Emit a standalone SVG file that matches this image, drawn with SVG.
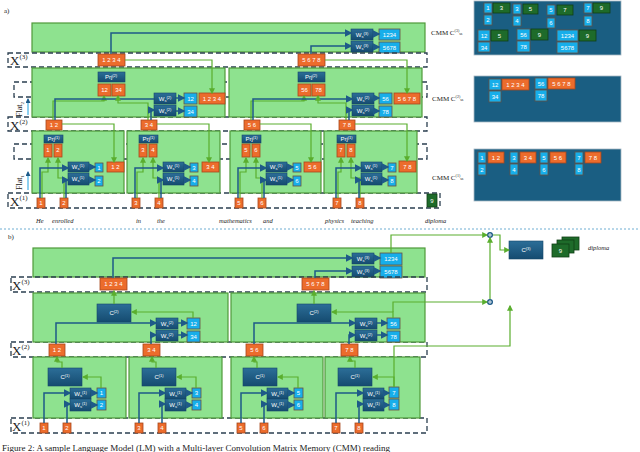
<svg xmlns="http://www.w3.org/2000/svg" width="640" height="452" viewBox="0 0 640 452">
<defs>
<marker id="ag" markerWidth="5" markerHeight="5" refX="4" refY="2.5" orient="auto"><path d="M0,0L5,2.5L0,5z" fill="#5aae2e"/></marker>
<marker id="ab" markerWidth="5" markerHeight="5" refX="4" refY="2.5" orient="auto"><path d="M0,0L5,2.5L0,5z" fill="#1e5a88"/></marker>
<linearGradient id="wg" x1="0" y1="0" x2="0" y2="1"><stop offset="0" stop-color="#2c6e98"/><stop offset="1" stop-color="#154b70"/></linearGradient>
</defs>
<style>
.g{fill:#8ee28f;stroke:#4f9a3a;stroke-width:1.2}
.o{fill:#ec6c2c;stroke:#a9481c;stroke-width:0.8}
.b{fill:#17aeea;stroke:#6a5040;stroke-width:0.8}
.dg{fill:#1e6b2a;stroke:#0f3f16;stroke-width:0.8}
.w{fill:url(#wg);stroke:#16466a;stroke-width:0.6}
.d{fill:none;stroke:#2b3f50;stroke-width:1.3;stroke-dasharray:5 3}
.gl{fill:none;stroke:#5aae2e;stroke-width:1.2;marker-end:url(#ag)}
.gn{fill:none;stroke:#5aae2e;stroke-width:1.2}
.bl{fill:none;stroke:#1e5a88;stroke-width:1.5;marker-end:url(#ab)}
.bn{fill:none;stroke:#1e5a88;stroke-width:1.5}
.cm{fill:#1a5e82;stroke:#a8b8c4;stroke-width:0.8}
text{font-family:"Liberation Sans",Arial,sans-serif}
.t{fill:#fff;font-size:6px;text-anchor:middle}
.s{font-family:"Liberation Serif","Times New Roman",serif;fill:#222}
.wd{font-family:"Liberation Serif",serif;font-style:italic;font-size:6.5px;fill:#222}
</style>
<rect width="640" height="452" fill="#fff"/>
<text x="4" y="13" class="s" font-size="7">a)</text>
<text x="8" y="239" class="s" font-size="7">b)</text>
<line x1="0" y1="229" x2="640" y2="229" stroke="#4a9ac8" stroke-width="0.8" stroke-dasharray="2 2"/>

<!-- ===== PANEL A ===== -->
<g id="a-top">
<rect class="g" x="32" y="23" width="393" height="29"/>
<rect class="w" x="351" y="29" width="22" height="11"/><text class="t" x="362" y="37">W<tspan font-size="4" dy="1">s</tspan><tspan font-size="4" dy="-3">(3)</tspan></text>
<rect class="w" x="351" y="41" width="22" height="11"/><text class="t" x="362" y="49">W<tspan font-size="4" dy="1">s</tspan><tspan font-size="4" dy="-3">(3)</tspan></text>
<rect class="b" x="379" y="29" width="21" height="11"/><text class="t" x="389.5" y="37">1234</text>
<rect class="b" x="379" y="42" width="21" height="11"/><text class="t" x="389.5" y="50">5678</text>
</g>
<g id="a-bands">
<rect class="d" x="8" y="53" width="419" height="14"/>
<rect class="d" x="14" y="82" width="413" height="15"/>
<rect class="d" x="8" y="117" width="419" height="14"/>
<rect class="d" x="14" y="144" width="413" height="15"/>
<rect class="d" x="8" y="193" width="432" height="15"/>
<text x="10" y="65" class="s" font-size="13">X<tspan font-size="7" dy="-6">(3)</tspan></text>
<text x="10" y="130" class="s" font-size="13">X<tspan font-size="7" dy="-6">(2)</tspan></text>
<text x="10" y="206" class="s" font-size="13">X<tspan font-size="7" dy="-6">(1)</tspan></text>
<text class="s" font-size="8" transform="translate(22,117) rotate(-90)">Flat<tspan font-size="5" dy="2">2</tspan></text>
<text class="s" font-size="8" transform="translate(22,190) rotate(-90)">Flat<tspan font-size="5" dy="2">1</tspan></text>
<line x1="28" y1="115" x2="28" y2="99" stroke="#1aa0e0" stroke-width="1" marker-end="url(#ab)"/>
<line x1="28" y1="190" x2="28" y2="172" stroke="#1aa0e0" stroke-width="1" marker-end="url(#ab)"/>
</g>

<g id="a-l2-left">
<rect class="g" x="32" y="68" width="193" height="49"/>
<rect class="w" x="98" y="72" width="27" height="10"/><text class="t" x="111" y="79">Prj<tspan font-size="4" dy="-2">(2)</tspan></text>
<rect class="o" x="98" y="84" width="13" height="12"/><text class="t" x="104.5" y="92">12</text>
<rect class="o" x="112" y="84" width="13" height="12"/><text class="t" x="118.5" y="92">34</text>
<rect class="w" x="154" y="93" width="22" height="11"/><text class="t" x="165" y="101">W<tspan font-size="4" dy="1">s</tspan><tspan font-size="4" dy="-3">(2)</tspan></text>
<rect class="w" x="154" y="105" width="22" height="11"/><text class="t" x="165" y="113">W<tspan font-size="4" dy="1">s</tspan><tspan font-size="4" dy="-3">(2)</tspan></text>
<rect class="b" x="184" y="93" width="13" height="11"/><text class="t" x="190.5" y="101">12</text>
<rect class="b" x="184" y="106" width="13" height="11"/><text class="t" x="190.5" y="114">34</text>
<rect class="o" x="199" y="93" width="26" height="11"/><text class="t" x="212" y="101">1 2 3 4</text>
<rect class="o" x="98" y="54" width="27" height="12"/><text class="t" x="111.5" y="62">1 2 3 4</text>
</g>
<g id="a-l2-right">
<rect class="g" x="229" y="68" width="193" height="49"/>
<rect class="w" x="298" y="72" width="27" height="10"/><text class="t" x="311" y="79">Prj<tspan font-size="4" dy="-2">(2)</tspan></text>
<rect class="o" x="298" y="84" width="13" height="12"/><text class="t" x="304.5" y="92">56</text>
<rect class="o" x="312" y="84" width="13" height="12"/><text class="t" x="318.5" y="92">78</text>
<rect class="w" x="352" y="93" width="22" height="11"/><text class="t" x="363" y="101">W<tspan font-size="4" dy="1">s</tspan><tspan font-size="4" dy="-3">(2)</tspan></text>
<rect class="w" x="352" y="105" width="22" height="11"/><text class="t" x="363" y="113">W<tspan font-size="4" dy="1">s</tspan><tspan font-size="4" dy="-3">(2)</tspan></text>
<rect class="b" x="379" y="93" width="13" height="11"/><text class="t" x="385.5" y="101">56</text>
<rect class="b" x="379" y="106" width="13" height="11"/><text class="t" x="385.5" y="114">78</text>
<rect class="o" x="394" y="93" width="26" height="11"/><text class="t" x="407" y="101">5 6 7 8</text>
<rect class="o" x="298" y="54" width="27" height="12"/><text class="t" x="311.5" y="62">5 6 7 8</text>
</g>

<g id="a-l1-1">
<rect class="g" x="32" y="131" width="92" height="62"/>
<rect class="w" x="44" y="135" width="19" height="8"/><text class="t" x="53.5" y="141">Prj<tspan font-size="4" dy="-2">(1)</tspan></text>
<rect class="o" x="44" y="144" width="8" height="13"/><text class="t" x="48" y="152">1</text>
<rect class="o" x="54" y="144" width="8" height="13"/><text class="t" x="58" y="152">2</text>
<rect class="w" x="68" y="162" width="21" height="10"/><text class="t" x="78" y="169">W<tspan font-size="4" dy="1">s</tspan><tspan font-size="4" dy="-3">(1)</tspan></text>
<rect class="w" x="68" y="173" width="21" height="12"/><text class="t" x="78" y="181">W<tspan font-size="4" dy="1">s</tspan><tspan font-size="4" dy="-3">(1)</tspan></text>
<rect class="b" x="95" y="163" width="8" height="9"/><text class="t" x="99" y="170">1</text>
<rect class="b" x="95" y="176" width="8" height="10"/><text class="t" x="99" y="183">2</text>
<rect class="o" x="107" y="162" width="17" height="10"/><text class="t" x="115.5" y="169">1 2</text>
<rect class="o" x="46" y="120" width="16" height="10"/><text class="t" x="54" y="127">1 2</text>
<rect class="o" x="37" y="198" width="8" height="10"/><text class="t" x="41" y="205">1</text>
<rect class="o" x="60" y="198" width="8" height="10"/><text class="t" x="64" y="205">2</text>
</g>
<g id="a-l1-2">
<rect class="g" x="127" y="131" width="93" height="62"/>
<rect class="w" x="139" y="135" width="19" height="8"/><text class="t" x="148.5" y="141">Prj<tspan font-size="4" dy="-2">(1)</tspan></text>
<rect class="o" x="139" y="144" width="8" height="13"/><text class="t" x="143" y="152">3</text>
<rect class="o" x="149" y="144" width="8" height="13"/><text class="t" x="153" y="152">4</text>
<rect class="w" x="163" y="162" width="21" height="10"/><text class="t" x="173" y="169">W<tspan font-size="4" dy="1">s</tspan><tspan font-size="4" dy="-3">(1)</tspan></text>
<rect class="w" x="163" y="173" width="21" height="12"/><text class="t" x="173" y="181">W<tspan font-size="4" dy="1">s</tspan><tspan font-size="4" dy="-3">(1)</tspan></text>
<rect class="b" x="190" y="163" width="8" height="9"/><text class="t" x="194" y="170">3</text>
<rect class="b" x="190" y="176" width="8" height="10"/><text class="t" x="194" y="183">4</text>
<rect class="o" x="202" y="162" width="17" height="10"/><text class="t" x="210.5" y="169">3 4</text>
<rect class="o" x="141" y="120" width="16" height="10"/><text class="t" x="149" y="127">3 4</text>
<rect class="o" x="132" y="198" width="8" height="10"/><text class="t" x="136" y="205">3</text>
<rect class="o" x="155" y="198" width="8" height="10"/><text class="t" x="159" y="205">4</text>
</g>
<g id="a-l1-3">
<rect class="g" x="230" y="131" width="91" height="62"/>
<rect class="w" x="242" y="135" width="19" height="8"/><text class="t" x="251.5" y="141">Prj<tspan font-size="4" dy="-2">(1)</tspan></text>
<rect class="o" x="242" y="144" width="8" height="13"/><text class="t" x="246" y="152">5</text>
<rect class="o" x="252" y="144" width="8" height="13"/><text class="t" x="256" y="152">6</text>
<rect class="w" x="266" y="162" width="21" height="10"/><text class="t" x="276" y="169">W<tspan font-size="4" dy="1">s</tspan><tspan font-size="4" dy="-3">(1)</tspan></text>
<rect class="w" x="266" y="173" width="21" height="12"/><text class="t" x="276" y="181">W<tspan font-size="4" dy="1">s</tspan><tspan font-size="4" dy="-3">(1)</tspan></text>
<rect class="b" x="293" y="163" width="8" height="9"/><text class="t" x="297" y="170">5</text>
<rect class="b" x="293" y="176" width="8" height="10"/><text class="t" x="297" y="183">6</text>
<rect class="o" x="304" y="162" width="17" height="10"/><text class="t" x="312.5" y="169">5 6</text>
<rect class="o" x="244" y="120" width="16" height="10"/><text class="t" x="252" y="127">5 6</text>
<rect class="o" x="235" y="198" width="8" height="10"/><text class="t" x="239" y="205">5</text>
<rect class="o" x="258" y="198" width="8" height="10"/><text class="t" x="262" y="205">6</text>
</g>
<g id="a-l1-4">
<rect class="g" x="324" y="131" width="93" height="62"/>
<rect class="w" x="337" y="135" width="19" height="8"/><text class="t" x="346.5" y="141">Prj<tspan font-size="4" dy="-2">(1)</tspan></text>
<rect class="o" x="337" y="144" width="8" height="13"/><text class="t" x="341" y="152">7</text>
<rect class="o" x="347" y="144" width="8" height="13"/><text class="t" x="351" y="152">8</text>
<rect class="w" x="361" y="162" width="21" height="10"/><text class="t" x="371" y="169">W<tspan font-size="4" dy="1">s</tspan><tspan font-size="4" dy="-3">(1)</tspan></text>
<rect class="w" x="361" y="173" width="21" height="12"/><text class="t" x="371" y="181">W<tspan font-size="4" dy="1">s</tspan><tspan font-size="4" dy="-3">(1)</tspan></text>
<rect class="b" x="388" y="163" width="8" height="9"/><text class="t" x="392" y="170">7</text>
<rect class="b" x="388" y="176" width="8" height="10"/><text class="t" x="392" y="183">8</text>
<rect class="o" x="399" y="161" width="17" height="11"/><text class="t" x="407.5" y="169">7 8</text>
<rect class="o" x="339" y="120" width="16" height="10"/><text class="t" x="347" y="127">7 8</text>
<rect class="o" x="333" y="198" width="8" height="10"/><text class="t" x="337" y="205">7</text>
<rect class="o" x="356" y="198" width="8" height="10"/><text class="t" x="360" y="205">8</text>
<rect class="dg" x="427" y="194" width="10" height="13"/><text class="t" x="432" y="203">9</text>
</g>

<g id="a-connectors">
<!-- level1 unit connectors -->
<path class="gl" d="M42,198V172H48V158"/><path class="gl" d="M64,198V178H58V158"/>
<path class="bl" d="M40,198V168H68"/><path class="bl" d="M66,198V180H68"/>
<path class="bl" d="M89,167H95"/><path class="bl" d="M89,180H95"/>
<path class="gl" d="M62,124H114V162"/>
<path class="gl" d="M137,198V172H143V158"/><path class="gl" d="M159,198V178H153V158"/>
<path class="bl" d="M135,198V168H163"/><path class="bl" d="M161,198V180H163"/>
<path class="bl" d="M184,167H190"/><path class="bl" d="M184,180H190"/>
<path class="gl" d="M157,124H209V162"/>
<path class="gl" d="M240,198V172H246V158"/><path class="gl" d="M262,198V178H256V158"/>
<path class="bl" d="M238,198V168H266"/><path class="bl" d="M264,198V180H266"/>
<path class="bl" d="M287,167H293"/><path class="bl" d="M287,180H293"/>
<path class="gl" d="M260,124H311V162"/>
<path class="gl" d="M338,198V172H341V158"/><path class="gl" d="M360,198V178H351V158"/>
<path class="bl" d="M336,198V168H361"/><path class="bl" d="M359,198V180H361"/>
<path class="bl" d="M382,167H388"/><path class="bl" d="M382,180H388"/>
<path class="gl" d="M355,124H407V161"/>
<!-- level2 connectors -->
<path class="gl" d="M53,120V101H104V96"/><path class="bn" d="M55,120V99H154"/>
<path class="gl" d="M148,120V103H118V96"/><path class="bn" d="M151,120V110H154" marker-end="url(#ab)"/>
<path class="bl" d="M176,98H184"/><path class="bl" d="M176,111H184"/>
<path class="gl" d="M125,60H212V93"/>
<path class="gl" d="M251,120V101H304V96"/><path class="bn" d="M253,120V99H352" marker-end="url(#ab)"/>
<path class="gl" d="M346,120V103H318V96"/><path class="bn" d="M349,120V110H352" marker-end="url(#ab)"/>
<path class="bl" d="M374,98H379"/><path class="bl" d="M374,111H379"/>
<path class="gl" d="M325,60H407V93"/>
<!-- top connectors -->
<path class="bl" d="M111,54V33H351"/><path class="bl" d="M311,54V46H351"/>
<path class="bl" d="M373,34H379"/><path class="bl" d="M373,47H379"/>
</g>

<g id="a-words">
<text class="wd" x="36" y="223">He</text><text class="wd" x="52" y="223">enrolled</text>
<text class="wd" x="136" y="223">in</text><text class="wd" x="157" y="223">the</text>
<text class="wd" x="219" y="223">mathematics</text><text class="wd" x="263" y="223">and</text>
<text class="wd" x="325" y="223">physics</text><text class="wd" x="351" y="223">teaching</text>
<text class="wd" x="425" y="223">diploma</text>
</g>

<g id="cmm3">
<text x="431" y="35" class="s" font-size="7">CMM C<tspan font-size="4" dy="-3">(3)</tspan><tspan font-size="4" dy="3">ss</tspan></text>
<rect class="cm" x="474" y="1" width="147" height="54"/>
<rect class="b" x="484" y="3" width="8" height="10"/><text class="t" x="488" y="10">1</text>
<rect class="dg" x="493" y="3" width="17" height="10"/><text class="t" x="501.5" y="10">3</text>
<rect class="b" x="484" y="15" width="8" height="10"/><text class="t" x="488" y="22">2</text>
<rect class="b" x="513" y="4" width="8" height="10"/><text class="t" x="517" y="11">3</text>
<rect class="dg" x="523" y="4" width="15" height="10"/><text class="t" x="530.5" y="11">5</text>
<rect class="b" x="513" y="16" width="8" height="10"/><text class="t" x="517" y="23">4</text>
<rect class="b" x="547" y="5" width="8" height="10"/><text class="t" x="551" y="12">5</text>
<rect class="dg" x="557" y="5" width="16" height="10"/><text class="t" x="565" y="12">7</text>
<rect class="b" x="547" y="18" width="8" height="10"/><text class="t" x="551" y="25">6</text>
<rect class="b" x="584" y="3" width="8" height="10"/><text class="t" x="588" y="10">7</text>
<rect class="dg" x="593" y="3" width="17" height="10"/><text class="t" x="601.5" y="10">9</text>
<rect class="b" x="584" y="16" width="8" height="10"/><text class="t" x="588" y="23">8</text>
<rect class="b" x="478" y="30" width="12" height="11"/><text class="t" x="484" y="38">12</text>
<rect class="dg" x="491" y="30" width="17" height="11"/><text class="t" x="499.5" y="38">5</text>
<rect class="b" x="478" y="42" width="12" height="10"/><text class="t" x="484" y="50">34</text>
<rect class="b" x="517" y="29" width="13" height="11"/><text class="t" x="523.5" y="37">56</text>
<rect class="dg" x="531" y="29" width="17" height="11"/><text class="t" x="539.5" y="37">9</text>
<rect class="b" x="517" y="41" width="13" height="11"/><text class="t" x="523.5" y="49">78</text>
<rect class="b" x="557" y="30" width="21" height="11"/><text class="t" x="567.5" y="38">1234</text>
<rect class="dg" x="579" y="30" width="17" height="11"/><text class="t" x="587.5" y="38">9</text>
<rect class="b" x="557" y="42" width="21" height="11"/><text class="t" x="567.5" y="50">5678</text>
</g>
<g id="cmm2">
<text x="432" y="101" class="s" font-size="7">CMM C<tspan font-size="4" dy="-3">(2)</tspan><tspan font-size="4" dy="3">ss</tspan></text>
<rect class="cm" x="474" y="76" width="147" height="46"/>
<rect class="b" x="489" y="79" width="12" height="11"/><text class="t" x="495" y="87">12</text>
<rect class="o" x="502" y="79" width="27" height="11"/><text class="t" x="515.5" y="87">1 2 3 4</text>
<rect class="b" x="489" y="91" width="12" height="11"/><text class="t" x="495" y="99">34</text>
<rect class="b" x="535" y="78" width="12" height="11"/><text class="t" x="541" y="86">56</text>
<rect class="o" x="548" y="78" width="27" height="11"/><text class="t" x="561.5" y="86">5 6 7 8</text>
<rect class="b" x="535" y="90" width="12" height="11"/><text class="t" x="541" y="98">78</text>
</g>
<g id="cmm1">
<text x="432" y="180" class="s" font-size="7">CMM C<tspan font-size="4" dy="-3">(1)</tspan><tspan font-size="4" dy="3">ss</tspan></text>
<rect class="cm" x="474" y="149" width="147" height="52"/>
<rect class="b" x="478" y="152" width="8" height="11"/><text class="t" x="482" y="160">1</text>
<rect class="o" x="488" y="152" width="16" height="11"/><text class="t" x="496" y="160">1 2</text>
<rect class="b" x="478" y="164" width="8" height="11"/><text class="t" x="482" y="172">2</text>
<rect class="b" x="510" y="152" width="8" height="11"/><text class="t" x="514" y="160">3</text>
<rect class="o" x="520" y="152" width="16" height="11"/><text class="t" x="528" y="160">3 4</text>
<rect class="b" x="510" y="164" width="8" height="11"/><text class="t" x="514" y="172">4</text>
<rect class="b" x="540" y="152" width="8" height="11"/><text class="t" x="544" y="160">5</text>
<rect class="o" x="550" y="152" width="16" height="11"/><text class="t" x="558" y="160">5 6</text>
<rect class="b" x="540" y="164" width="8" height="11"/><text class="t" x="544" y="172">6</text>
<rect class="b" x="575" y="152" width="8" height="11"/><text class="t" x="579" y="160">7</text>
<rect class="o" x="585" y="152" width="16" height="11"/><text class="t" x="593" y="160">7 8</text>
<rect class="b" x="575" y="164" width="8" height="11"/><text class="t" x="579" y="172">8</text>
</g>

<!-- ===== PANEL B ===== -->
<g id="b-top">
<rect class="g" x="33" y="248" width="392" height="29"/>
<rect class="w" x="352" y="253" width="22" height="11"/><text class="t" x="363" y="261">W<tspan font-size="4" dy="1">s</tspan><tspan font-size="4" dy="-3">(3)</tspan></text>
<rect class="w" x="352" y="266" width="22" height="11"/><text class="t" x="363" y="274">W<tspan font-size="4" dy="1">s</tspan><tspan font-size="4" dy="-3">(3)</tspan></text>
<rect class="b" x="380" y="253" width="22" height="12"/><text class="t" x="391" y="261">1234</text>
<rect class="b" x="380" y="266" width="22" height="12"/><text class="t" x="391" y="274">5678</text>
</g>
<g id="b-bands">
<rect class="d" x="11" y="277" width="416" height="15"/>
<rect class="d" x="11" y="342" width="416" height="15"/>
<rect class="d" x="11" y="418" width="416" height="15"/>
<text x="12" y="290" class="s" font-size="13">X<tspan font-size="7" dy="-6">(3)</tspan></text>
<text x="12" y="355" class="s" font-size="13">X<tspan font-size="7" dy="-6">(2)</tspan></text>
<text x="12" y="431" class="s" font-size="13">X<tspan font-size="7" dy="-6">(1)</tspan></text>
</g>
<g id="b-l2-left">
<rect class="g" x="33" y="293" width="195" height="49"/>
<rect class="w" x="97" y="304" width="34" height="18"/><text class="t" x="114" y="315">C<tspan font-size="4" dy="-2">(2)</tspan></text>
<rect class="w" x="156" y="318" width="22" height="11"/><text class="t" x="167" y="326">W<tspan font-size="4" dy="1">s</tspan><tspan font-size="4" dy="-3">(2)</tspan></text>
<rect class="w" x="156" y="330" width="22" height="11"/><text class="t" x="167" y="338">W<tspan font-size="4" dy="1">s</tspan><tspan font-size="4" dy="-3">(2)</tspan></text>
<rect class="b" x="187" y="318" width="13" height="11"/><text class="t" x="193.5" y="326">12</text>
<rect class="b" x="187" y="331" width="13" height="11"/><text class="t" x="193.5" y="339">34</text>
<rect class="o" x="100" y="278" width="27" height="12"/><text class="t" x="113.5" y="286">1 2 3 4</text>
</g>
<g id="b-l2-right">
<rect class="g" x="231" y="293" width="194" height="49"/>
<rect class="w" x="297" y="304" width="34" height="18"/><text class="t" x="314" y="315">C<tspan font-size="4" dy="-2">(2)</tspan></text>
<rect class="w" x="355" y="318" width="22" height="11"/><text class="t" x="366" y="326">W<tspan font-size="4" dy="1">s</tspan><tspan font-size="4" dy="-3">(2)</tspan></text>
<rect class="w" x="355" y="330" width="22" height="11"/><text class="t" x="366" y="338">W<tspan font-size="4" dy="1">s</tspan><tspan font-size="4" dy="-3">(2)</tspan></text>
<rect class="b" x="387" y="318" width="13" height="11"/><text class="t" x="393.5" y="326">56</text>
<rect class="b" x="387" y="331" width="13" height="11"/><text class="t" x="393.5" y="339">78</text>
<rect class="o" x="302" y="278" width="27" height="12"/><text class="t" x="315.5" y="286">5 6 7 8</text>
</g>
<g id="b-l1-1">
<rect class="g" x="33" y="357" width="93" height="61"/>
<rect class="w" x="48" y="368" width="34" height="18"/><text class="t" x="65" y="379">C<tspan font-size="4" dy="-2">(1)</tspan></text>
<rect class="w" x="70" y="388" width="21" height="11"/><text class="t" x="80.5" y="396">W<tspan font-size="4" dy="1">s</tspan><tspan font-size="4" dy="-3">(1)</tspan></text>
<rect class="w" x="70" y="399" width="21" height="12"/><text class="t" x="80.5" y="407">W<tspan font-size="4" dy="1">s</tspan><tspan font-size="4" dy="-3">(1)</tspan></text>
<rect class="b" x="97" y="388" width="9" height="10"/><text class="t" x="101.5" y="395">1</text>
<rect class="b" x="97" y="400" width="9" height="10"/><text class="t" x="101.5" y="407">2</text>
<rect class="o" x="49" y="344" width="16" height="12"/><text class="t" x="57" y="352">1 2</text>
<rect class="o" x="40" y="423" width="8" height="10"/><text class="t" x="44" y="430">1</text>
<rect class="o" x="63" y="423" width="8" height="10"/><text class="t" x="67" y="430">2</text>
</g>
<g id="b-l1-2">
<rect class="g" x="129" y="357" width="93" height="61"/>
<rect class="w" x="142" y="368" width="34" height="18"/><text class="t" x="159" y="379">C<tspan font-size="4" dy="-2">(1)</tspan></text>
<rect class="w" x="165" y="388" width="21" height="11"/><text class="t" x="175.5" y="396">W<tspan font-size="4" dy="1">s</tspan><tspan font-size="4" dy="-3">(1)</tspan></text>
<rect class="w" x="165" y="399" width="21" height="12"/><text class="t" x="175.5" y="407">W<tspan font-size="4" dy="1">s</tspan><tspan font-size="4" dy="-3">(1)</tspan></text>
<rect class="b" x="192" y="388" width="9" height="10"/><text class="t" x="196.5" y="395">3</text>
<rect class="b" x="192" y="400" width="9" height="10"/><text class="t" x="196.5" y="407">4</text>
<rect class="o" x="143" y="344" width="17" height="12"/><text class="t" x="151.5" y="352">3 4</text>
<rect class="o" x="135" y="423" width="8" height="10"/><text class="t" x="139" y="430">3</text>
<rect class="o" x="158" y="423" width="8" height="10"/><text class="t" x="162" y="430">4</text>
</g>
<g id="b-l1-3">
<rect class="g" x="231" y="357" width="92" height="61"/>
<rect class="w" x="243" y="368" width="34" height="18"/><text class="t" x="260" y="379">C<tspan font-size="4" dy="-2">(1)</tspan></text>
<rect class="w" x="267" y="388" width="21" height="11"/><text class="t" x="277.5" y="396">W<tspan font-size="4" dy="1">s</tspan><tspan font-size="4" dy="-3">(1)</tspan></text>
<rect class="w" x="267" y="399" width="21" height="12"/><text class="t" x="277.5" y="407">W<tspan font-size="4" dy="1">s</tspan><tspan font-size="4" dy="-3">(1)</tspan></text>
<rect class="b" x="294" y="388" width="9" height="10"/><text class="t" x="298.5" y="395">5</text>
<rect class="b" x="294" y="400" width="9" height="10"/><text class="t" x="298.5" y="407">6</text>
<rect class="o" x="246" y="344" width="17" height="12"/><text class="t" x="254.5" y="352">5 6</text>
<rect class="o" x="237" y="423" width="8" height="10"/><text class="t" x="241" y="430">5</text>
<rect class="o" x="260" y="423" width="8" height="10"/><text class="t" x="264" y="430">6</text>
</g>
<g id="b-l1-4">
<rect class="g" x="325" y="357" width="95" height="61"/>
<rect class="w" x="338" y="368" width="34" height="18"/><text class="t" x="355" y="379">C<tspan font-size="4" dy="-2">(1)</tspan></text>
<rect class="w" x="363" y="388" width="21" height="11"/><text class="t" x="373.5" y="396">W<tspan font-size="4" dy="1">s</tspan><tspan font-size="4" dy="-3">(1)</tspan></text>
<rect class="w" x="363" y="399" width="21" height="12"/><text class="t" x="373.5" y="407">W<tspan font-size="4" dy="1">s</tspan><tspan font-size="4" dy="-3">(1)</tspan></text>
<rect class="b" x="389" y="387" width="10" height="11"/><text class="t" x="394" y="395">7</text>
<rect class="b" x="389" y="399" width="10" height="11"/><text class="t" x="394" y="407">8</text>
<rect class="o" x="341" y="344" width="17" height="12"/><text class="t" x="349.5" y="352">7 8</text>
<rect class="o" x="332" y="423" width="8" height="10"/><text class="t" x="336" y="430">7</text>
<rect class="o" x="355" y="423" width="8" height="10"/><text class="t" x="359" y="430">8</text>
</g>
<g id="b-right">
<circle cx="490" cy="235" r="3" fill="#1e5a88"/><path d="M488,235h4M490,233v4" stroke="#fff" stroke-width="0.8"/>
<circle cx="490" cy="302" r="3" fill="#1e5a88"/><path d="M488,302h4M490,300v4" stroke="#fff" stroke-width="0.8"/>
<rect class="w" x="509" y="241" width="34" height="18"/><text class="t" x="526" y="252">C<tspan font-size="4" dy="-2">(3)</tspan></text>
<rect class="dg" x="562" y="237" width="17" height="13"/>
<rect class="dg" x="557" y="240" width="17" height="13"/>
<rect class="dg" x="552" y="244" width="17" height="13"/><text class="t" x="560.5" y="253">9</text>
<text class="wd" x="588" y="250">diploma</text>
</g>
<g id="b-connectors">
<path class="bl" d="M44,423V393H70"/><path class="bl" d="M67,423V404H70"/>
<path class="bl" d="M91,393H97"/><path class="bl" d="M91,405H97"/>
<path class="gl" d="M101,388V377H83"/><path class="gl" d="M62,368V362H57V357"/>
<path class="bl" d="M139,423V393H165"/><path class="bl" d="M162,423V404H165"/>
<path class="bl" d="M186,393H192"/><path class="bl" d="M186,405H192"/>
<path class="gl" d="M196,388V377H177"/><path class="gl" d="M156,368V362H152V357"/>
<path class="bl" d="M241,423V393H267"/><path class="bl" d="M264,423V404H267"/>
<path class="bl" d="M288,393H294"/><path class="bl" d="M288,405H294"/>
<path class="gl" d="M298,388V377H278"/><path class="gl" d="M257,368V362H254V357"/>
<path class="bl" d="M336,423V393H363"/><path class="bl" d="M359,423V404H363"/>
<path class="bl" d="M384,393H389"/><path class="bl" d="M384,405H389"/>
<path class="gl" d="M394,387V377H373"/><path class="gl" d="M355,368V361H350V357"/>
<path class="gn" d="M394,387V346H510V306" marker-end="url(#ag)"/>
<path class="bl" d="M56,344V323H156"/><path class="bl" d="M151,344V335H156"/>
<path class="bl" d="M178,323H187"/><path class="bl" d="M178,335H187"/>
<path class="gl" d="M193,318V312H132"/><path class="gl" d="M114,304V291"/>
<path class="bl" d="M254,344V323H355"/><path class="bl" d="M349,344V335H355"/>
<path class="bl" d="M377,323H387"/><path class="bl" d="M377,335H387"/>
<path class="gl" d="M393,318V312H332"/><path class="gl" d="M314,304V291"/>
<path class="gn" d="M393,312V302H487" marker-end="url(#ag)"/>
<path class="bl" d="M113,278V258H352"/><path class="bl" d="M315,278V271H352"/>
<path class="bl" d="M374,258H380"/><path class="bl" d="M374,271H380"/>
<path class="gl" d="M391,253V235H487"/>
<path class="gl" d="M490,299V238"/>
<path class="gl" d="M493,235H500V250H509"/>
</g>
<text x="2" y="451" class="s" font-size="9">Figure 2: A sample Language Model (LM) with a Multi-layer Convolution Matrix Memory (CMM) reading</text>
</svg>
